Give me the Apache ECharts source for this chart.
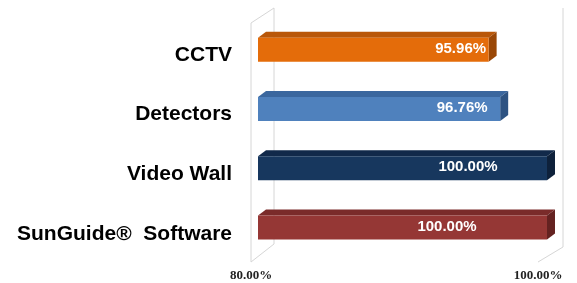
<!DOCTYPE html>
<html>
<head>
<meta charset="utf-8">
<script src="https://cdn.jsdelivr.net/npm/echarts@6/dist/echarts.min.js"></script>
<style>
html,body{margin:0;padding:0;background:#fff;}
#chart{width:577px;height:283px;}
</style>
</head>
<body>
<div id="chart"></div>
<script>
// ---- data ----
const categories = ['CCTV', 'Detectors', 'Video Wall', 'SunGuide®  Software'];
const values = [95.96, 96.76, 100.00, 100.00];
const axisMin = 80;
const axisMax = 100;
const tickInterval = 20;

// ---- styles ----
const faceColors = [
  { front: '#E46C0A', top: '#B95709', side: '#9A4706' },
  { front: '#4F81BD', top: '#3B679E', side: '#2E5382' },
  { front: '#17375E', top: '#11294A', side: '#0E213B' },
  { front: '#953735', top: '#7A2B2A', side: '#642221' }
];
const labelShift = [-28, -38, -79, -100];
const DX = 8, DY = 6, BAR_H = 24;

const chart = echarts.init(document.getElementById('chart'));

const barData = values.map((v, i) => [v, i]);

const hiddenAxis = { axisLine: { show: false }, axisTick: { show: false }, splitLine: { show: false }, axisLabel: { show: false } };

chart.setOption({
  animation: false,
  backgroundColor: '#ffffff',
  grid: [
    { left: 258, top: 20, width: 289, height: 237 },
    { left: 251, top: 20, width: 287, height: 237 },
    { left: 258, top: 25, width: 289, height: 239 }
  ],
  xAxis: [
    Object.assign({ gridIndex: 0, type: 'value', min: axisMin, max: axisMax, interval: tickInterval }, hiddenAxis),
    { gridIndex: 1, type: 'value', min: axisMin, max: axisMax, interval: tickInterval,
      axisLine: { show: false }, axisTick: { show: false }, splitLine: { show: false },
      axisLabel: { show: true, margin: 12, color: '#222', fontFamily: 'Liberation Serif',
        fontWeight: 'bold', fontSize: 13,
        formatter: v => v.toFixed(2) + '%' } },
    Object.assign({ gridIndex: 2, type: 'value', min: axisMin, max: axisMax, interval: tickInterval }, hiddenAxis)
  ],
  yAxis: [
    Object.assign({ gridIndex: 0, type: 'category', data: categories, inverse: true }, hiddenAxis),
    { gridIndex: 1, type: 'category', data: categories, inverse: true, show: false },
    { gridIndex: 2, type: 'category', data: categories, inverse: true,
      axisLine: { show: false }, axisTick: { show: false }, splitLine: { show: false },
      axisLabel: { margin: 26, color: '#000', fontFamily: 'Liberation Sans',
        fontWeight: 'bold', fontSize: 21 } }
  ],
  series: [
    {
      type: 'custom',
      xAxisIndex: 0, yAxisIndex: 0,
      data: [[axisMin, 0]],
      silent: true,
      z: 1,
      renderItem: function (params, api) {
        const cs = params.coordSys;
        const L = cs.x, T = cs.y, R = cs.x + cs.width, B = cs.y + cs.height;
        const fl = L - 7, bl = L + 16, br = R + 16, fr = R - 9;
        const topF = T + 3, topB = T - 12, botF = B + 5, botB = B - 13;
        const st = { stroke: '#d6d6d6', lineWidth: 1, fill: null };
        const line = (x1, y1, x2, y2) => ({ type: 'line', shape: { x1, y1, x2, y2 }, style: st });
        return {
          type: 'group',
          children: [
            line(fl, topF, fl, botF),
            line(bl, topB, bl, botB),
            line(fl, topF, bl, topB),
            line(fl, botF, bl, botB),
            line(br, topB, br, botB + 3),
            line(br, botB + 3, fr, botF)
          ]
        };
      }
    },
    {
      type: 'custom',
      xAxisIndex: 0, yAxisIndex: 0,
      data: barData,
      encode: { x: 0, y: 1 },
      z: 2,
      renderItem: function (params, api) {
        const val = api.value(0);
        const cat = api.value(1);
        const p0 = api.coord([axisMin, cat]);
        const p1 = api.coord([val, cat]);
        const x0 = p0[0], x1 = p1[0], yc = p1[1];
        const top = yc - BAR_H / 2;
        const c = faceColors[params.dataIndex];
        return {
          type: 'group',
          children: [
            { type: 'polygon',
              shape: { points: [[x0, top], [x0 + DX, top - DY], [x1 + DX, top - DY], [x1, top]] },
              style: { fill: c.top } },
            { type: 'polygon',
              shape: { points: [[x1, top], [x1 + DX, top - DY], [x1 + DX, top - DY + BAR_H], [x1, top + BAR_H]] },
              style: { fill: c.side } },
            { type: 'rect',
              shape: { x: x0, y: top, width: x1 - x0, height: BAR_H },
              style: { fill: c.front } },
            { type: 'text',
              x: x1 + labelShift[params.dataIndex], y: yc - 1,
              style: { text: val.toFixed(2) + '%', fill: '#fff',
                font: 'bold 15px "Liberation Sans"', align: 'center', verticalAlign: 'middle' } }
          ]
        };
      }
    }
  ]
});
</script>
</body>
</html>
